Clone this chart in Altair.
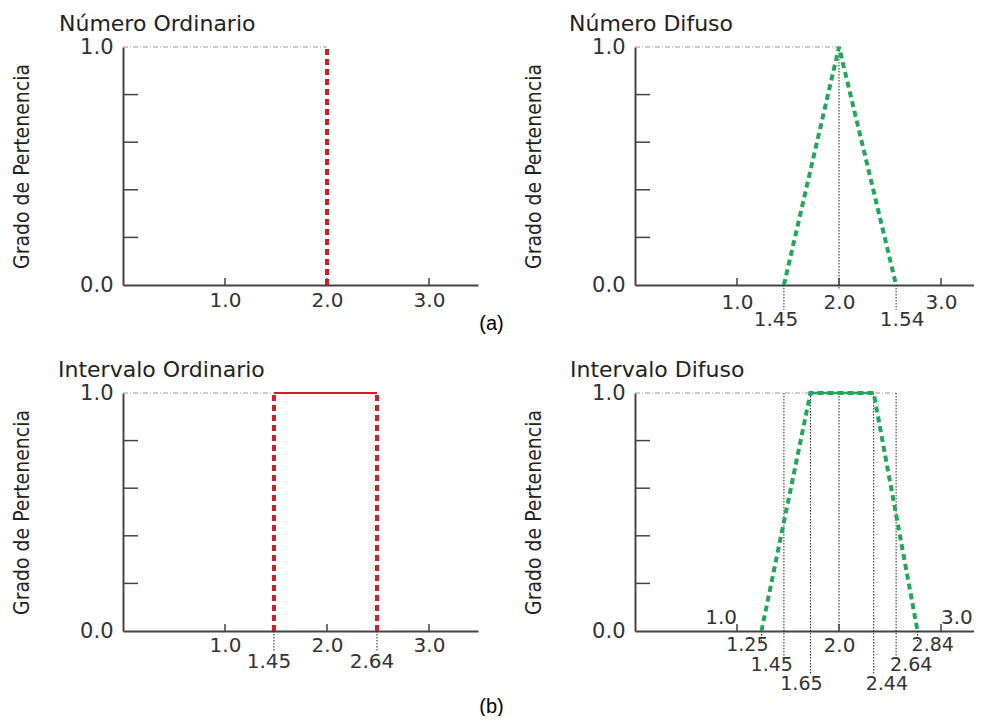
import altair as alt
import pandas as pd

# ---------------- data ----------------
TITLES = ["Número Ordinario", "Número Difuso", "Intervalo Ordinario", "Intervalo Difuso"]
Y_TITLE = "Grado de Pertenencia"
CAPTIONS = ["(a)", "(b)"]
X_TICKS = [1.0, 2.0, 3.0]
Y_LABELS = [0.0, 1.0]
Y_MINOR = [0.2, 0.4, 0.6, 0.8]

# (a) ordinary number
num_ord_x = [2.0]
# (a) fuzzy number (triangle)
num_fuz_x = [1.46, 2.0, 2.56]
num_fuz_y = [0.0, 1.0, 0.0]
num_fuz_labels = ["1.45", "1.54"]
# (b) ordinary interval
int_ord_x = [1.48, 2.49]
int_ord_labels = ["1.45", "2.64"]
# (b) fuzzy interval (trapezoid)
int_fuz_x = [1.24, 1.72, 2.34, 2.77]
int_fuz_y = [0.0, 1.0, 1.0, 0.0]
int_fuz_inner_x = [1.46, 1.72, 2.34, 2.56]
int_fuz_inner_labels = ["1.45", "1.65", "2.44", "2.64"]
int_fuz_feet_labels = ["1.25", "2.84"]

# ---------------- style ----------------
WL, WR, H = 355, 339, 238
PX_PER_UNIT = 102.0
RED = "#cc1f2a"
GREEN = "#22a65b"
AXC = "#444444"
TXT = "#333333"
FONT = "DejaVu Sans"
NARROW = "Liberation Sans Narrow, DejaVu Sans Condensed, Arial Narrow, sans-serif"
LBL = 20

ys = alt.Scale(domain=[0, 1], nice=False)


def xscale(w):
    return alt.Scale(domain=[0, w / PX_PER_UNIT], nice=False)


def df(**kw):
    return pd.DataFrame(kw)


def base_axes(xs, label_pad, x_values, caption=None, cap_y=0):
    xaxis_kw = dict(values=x_values, format=".1f", ticks=False, grid=False, title=None,
                    labelFont=FONT, labelFontSize=LBL, labelColor=TXT, labelPadding=label_pad,
                    labelFlush=False, labelOverlap=False, domainColor=AXC, domainWidth=2)
    if caption is not None:
        xaxis_kw.update(title=caption, titleX=368, titleY=cap_y, titleAlign="center",
                        titleBaseline="middle", titleFont="Liberation Sans, Arial, sans-serif",
                        titleFontSize=20, titleFontWeight="normal", titleColor="#000000",
                        titleAnchor="start")
    yaxis = alt.Axis(values=Y_LABELS, format=".1f", ticks=False, grid=False,
                     title=Y_TITLE, titleX=-101, titleY=H / 2, titleAngle=270,
                     titleAlign="center", titleBaseline="middle", titleFont=NARROW,
                     titleFontSize=21, titleFontWeight="normal", titleColor="#222222",
                     labelFont=FONT, labelFontSize=21, labelColor=TXT, labelPadding=10,
                     labelFlush=False, domainColor=AXC, domainWidth=2)
    axes = alt.Chart(df(x=[0.0], y=[0.0])).mark_point(opacity=0).encode(
        x=alt.X("x:Q", scale=xs, axis=alt.Axis(**xaxis_kw)),
        y=alt.Y("y:Q", scale=ys, axis=yaxis),
    )
    yminor = alt.Chart(df(y=Y_MINOR)).mark_rule(color=AXC, strokeWidth=1.5).encode(
        y=alt.Y("y:Q", scale=ys), x=alt.value(0), x2=alt.value(15))
    xminor = alt.Chart(df(x=X_TICKS)).mark_rule(color=AXC, strokeWidth=1.5).encode(
        x=alt.X("x:Q", scale=xs), y=alt.value(H), y2=alt.value(H - 7))
    return [axes, yminor, xminor]


def top_dashdot(xs, xend):
    return alt.Chart(df(x0=[0.0], x1=[xend], y=[1.0])).mark_rule(
        color="#999999", strokeWidth=1, strokeDash=[5, 2, 1, 2]).encode(
        x=alt.X("x0:Q", scale=xs), x2="x1:Q", y=alt.Y("y:Q", scale=ys))


def dotted_drop(xs, xvals, below, from_top=True):
    enc = dict(x=alt.X("x:Q", scale=xs), y2=alt.value(H + below))
    if from_top:
        enc["y"] = alt.Y("y:Q", scale=ys)
    else:
        enc["y"] = alt.value(H)
    return alt.Chart(df(x=xvals, y=[1.0] * len(xvals))).mark_rule(
        color="#222222", strokeWidth=1, strokeDash=[1.5, 1.5]).encode(**enc)


def labels(xs, xvals, texts, ypix, align="center", dx=0, size=LBL):
    return alt.Chart(df(x=xvals, t=texts)).mark_text(
        font=FONT, fontSize=size, color=TXT, baseline="middle", align=align, dx=dx).encode(
        x=alt.X("x:Q", scale=xs), y=alt.value(ypix), text="t:N")


def title(t, dx):
    return alt.TitleParams(t, anchor="start", frame="group", dx=dx, offset=0,
                           font=FONT, fontSize=22, fontWeight="normal", color="#222222")


# ---- panel 1: ordinary number ----
xs1 = xscale(WL)
p1_line = alt.Chart(df(x=num_ord_x, y0=[0.0], y1=[1.0])).mark_rule(
    color=RED, strokeWidth=4, strokeDash=[6, 4]).encode(
    x=alt.X("x:Q", scale=xs1), y=alt.Y("y0:Q", scale=ys), y2="y1:Q")
p1 = alt.layer(*base_axes(xs1, 5, X_TICKS, CAPTIONS[0], 38),
               top_dashdot(xs1, num_ord_x[0]), p1_line).properties(
    width=WL, height=H, title=title(TITLES[0], -64))

# ---- panel 2: fuzzy number ----
xs2 = xscale(WR)
p2_tri = alt.Chart(df(x=num_fuz_x, y=num_fuz_y, o=[0, 1, 2])).mark_line(
    color=GREEN, strokeWidth=4, strokeDash=[6, 4]).encode(
    x=alt.X("x:Q", scale=xs2), y=alt.Y("y:Q", scale=ys), order="o:Q")
p2 = alt.layer(*base_axes(xs2, 7, X_TICKS),
               top_dashdot(xs2, num_fuz_x[1]),
               dotted_drop(xs2, [num_fuz_x[1]], 5),
               dotted_drop(xs2, [num_fuz_x[0], num_fuz_x[2]], 25, from_top=False),
               p2_tri,
               labels(xs2, [num_fuz_x[0]], [num_fuz_labels[0]], H + 35, dx=-8),
               labels(xs2, [num_fuz_x[2]], [num_fuz_labels[1]], H + 35, dx=6),
               ).properties(width=WR, height=H, title=title(TITLES[1], -66))

# ---- panel 3: ordinary interval ----
xs3 = xscale(WL)
p3_v = alt.Chart(df(x=int_ord_x, y0=[0.0, 0.0], y1=[1.0, 1.0])).mark_rule(
    color=RED, strokeWidth=4, strokeDash=[6, 4]).encode(
    x=alt.X("x:Q", scale=xs3), y=alt.Y("y0:Q", scale=ys), y2="y1:Q")
p3_top = alt.Chart(df(x0=[int_ord_x[0]], x1=[int_ord_x[1]], y=[1.0])).mark_rule(
    color=RED, strokeWidth=2).encode(
    x=alt.X("x0:Q", scale=xs3), x2="x1:Q", y=alt.Y("y:Q", scale=ys))
p3 = alt.layer(*base_axes(xs3, 4, X_TICKS, CAPTIONS[1], 75),
               top_dashdot(xs3, int_ord_x[0]),
               dotted_drop(xs3, int_ord_x, 21, from_top=False),
               p3_v, p3_top,
               labels(xs3, int_ord_x, int_ord_labels, H + 31, dx=-5),
               ).properties(width=WL, height=H, title=title(TITLES[2], -65))

# ---- panel 4: fuzzy interval ----
xs4 = xscale(WR)
S4 = 19
p4_trap = alt.Chart(df(x=int_fuz_x, y=int_fuz_y, o=[0, 1, 2, 3])).mark_line(
    color=GREEN, strokeWidth=4, strokeDash=[6, 4]).encode(
    x=alt.X("x:Q", scale=xs4), y=alt.Y("y:Q", scale=ys), order="o:Q")
p4_top = alt.Chart(df(x0=[int_fuz_x[1]], x1=[int_fuz_x[2]], y=[1.0])).mark_rule(
    color=GREEN, strokeWidth=2.5).encode(
    x=alt.X("x0:Q", scale=xs4), x2="x1:Q", y=alt.Y("y:Q", scale=ys))
p4 = alt.layer(*base_axes(xs4, 4, [2.0]),
               top_dashdot(xs4, int_fuz_inner_x[3]),
               dotted_drop(xs4, [2.0], 0),
               dotted_drop(xs4, [int_fuz_inner_x[0], int_fuz_inner_x[3]], 28),
               dotted_drop(xs4, [int_fuz_inner_x[1], int_fuz_inner_x[2]], 43),
               dotted_drop(xs4, [int_fuz_x[0], int_fuz_x[3]], 12, from_top=False),
               p4_trap, p4_top,
               labels(xs4, [X_TICKS[0]], ["1.0"], H - 13, align="right", dx=0),
               labels(xs4, [X_TICKS[2]], ["3.0"], H - 13, align="left", dx=0),
               labels(xs4, [int_fuz_x[0]], [int_fuz_feet_labels[0]], H + 14, align="right", dx=7, size=S4),
               labels(xs4, [int_fuz_x[3]], [int_fuz_feet_labels[1]], H + 14, align="left", dx=-6, size=S4),
               labels(xs4, [int_fuz_inner_x[0]], [int_fuz_inner_labels[0]], H + 34, align="right", dx=9, size=S4),
               labels(xs4, [int_fuz_inner_x[3]], [int_fuz_inner_labels[3]], H + 34, align="left", dx=-6, size=S4),
               labels(xs4, [int_fuz_inner_x[1]], [int_fuz_inner_labels[1]], H + 53, align="center", dx=-9, size=S4),
               labels(xs4, [int_fuz_inner_x[2]], [int_fuz_inner_labels[2]], H + 53, align="left", dx=-8, size=S4),
               ).properties(width=WR, height=H, title=title(TITLES[3], -65))

chart = alt.concat(p1, p2, p3, p4, columns=2, bounds="flush",
                   spacing={"row": 108, "column": 157}).properties(
    padding={"left": 3, "top": 5, "right": 0, "bottom": 0},
    background="white",
).configure_view(strokeWidth=0, stroke=None)

chart.save("out.html", embed_options={"renderer": "svg", "actions": False})
